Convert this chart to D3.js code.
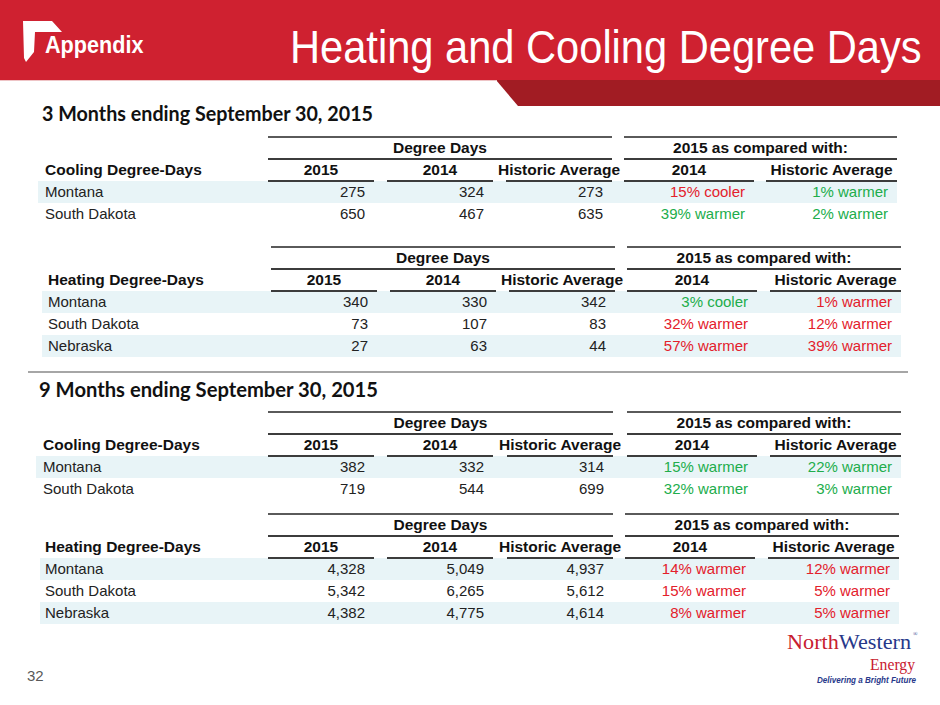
<!DOCTYPE html>
<html>
<head>
<meta charset="utf-8">
<script src="https://cdn.jsdelivr.net/npm/d3@7"></script>
<style>
  body { margin: 0; background: #fff; }
  svg { display: block; font-family: "Liberation Sans", Arial, sans-serif; }
</style>
</head>
<body>
<svg id="slide" width="940" height="705"></svg>
<script>
const slideTitle = 'Heating and Cooling Degree Days';
const sectionTitles = ['3 Months ending September 30, 2015', '9 Months ending September 30, 2015'];
const groupHeads = ['Degree Days', '2015 as compared with:'];
const colHeads = ['2015', '2014', 'Historic Average', '2014', 'Historic Average'];
const coolStates = ['Montana', 'South Dakota'];
const heatStates = ['Montana', 'South Dakota', 'Nebraska'];

// 3 months ending Sep 30
const q3Cool2015 = [275, 650];
const q3Cool2014 = [324, 467];
const q3CoolHist = [273, 635];
const q3CoolVs2014 = ['15% cooler', '39% warmer'];
const q3CoolVsHist = ['1% warmer', '2% warmer'];

const q3Heat2015 = [340, 73, 27];
const q3Heat2014 = [330, 107, 63];
const q3HeatHist = [342, 83, 44];
const q3HeatVs2014 = ['3% cooler', '32% warmer', '57% warmer'];
const q3HeatVsHist = ['1% warmer', '12% warmer', '39% warmer'];

// 9 months ending Sep 30
const ytdCool2015 = [382, 719];
const ytdCool2014 = [332, 544];
const ytdCoolHist = [314, 699];
const ytdCoolVs2014 = ['15% warmer', '32% warmer'];
const ytdCoolVsHist = ['22% warmer', '3% warmer'];

const ytdHeat2015 = [4328, 5342, 4382];
const ytdHeat2014 = [5049, 6265, 4775];
const ytdHeatHist = [4937, 5612, 4614];
const ytdHeatVs2014 = ['14% warmer', '15% warmer', '8% warmer'];
const ytdHeatVsHist = ['12% warmer', '5% warmer', '5% warmer'];

const tables = [
  { kind: 'cooling', label: 'Cooling Degree-Days', states: coolStates,
    cols: [q3Cool2015, q3Cool2014, q3CoolHist, q3CoolVs2014, q3CoolVsHist] },
  { kind: 'heating', label: 'Heating Degree-Days', states: heatStates,
    cols: [q3Heat2015, q3Heat2014, q3HeatHist, q3HeatVs2014, q3HeatVsHist] },
  { kind: 'cooling', label: 'Cooling Degree-Days', states: coolStates,
    cols: [ytdCool2015, ytdCool2014, ytdCoolHist, ytdCoolVs2014, ytdCoolVsHist] },
  { kind: 'heating', label: 'Heating Degree-Days', states: heatStates,
    cols: [ytdHeat2015, ytdHeat2014, ytdHeatHist, ytdHeatVs2014, ytdHeatVsHist] }
];

// layout (positions only)
const layouts = [
  { top: 137, labelX: 45, band: [38, 897], edges: [[268, 374], [387, 493], [506, 612], [624, 754], [766, 897]] },
  { top: 247, labelX: 48, band: [42, 901], edges: [[271, 377], [390, 496], [509, 615], [627, 757], [770, 901]] },
  { top: 412, labelX: 43, band: [36, 901], edges: [[268, 374], [387, 493], [507, 613], [627, 757], [770, 901]] },
  { top: 514, labelX: 45, band: [40, 899], edges: [[268, 374], [387, 493], [507, 613], [625, 755], [768, 899]] }
];

const rowH = 22;
const fmt = d3.format(',');
const red = '#e3202b', green = '#21ad4b';

const svg = d3.select('#slide');

// ---- header band
svg.append('rect').attr('x', 0).attr('y', 0).attr('width', 940).attr('height', 80).attr('fill', '#cf2130');
svg.append('polygon')
  .attr('points', '496,80 940,80 940,106 518,106')
  .attr('fill', '#a11c23');
svg.append('line').attr('x1', 0).attr('x2', 497).attr('y1', 80.5).attr('y2', 80.5)
  .attr('stroke', '#eec4c6').attr('stroke-width', 1);

svg.append('polygon')
  .attr('points', '23,21 52,21 62,32 35,32 34,52 26,62 24,58')
  .attr('fill', '#fff');
svg.append('text')
  .attr('transform', 'translate(45,53) scale(0.9,1)')
  .attr('font-size', 24).attr('font-weight', 700).attr('fill', '#fff')
  .text('Appendix');
svg.append('text')
  .attr('transform', 'translate(290,63) scale(0.905,1)')
  .attr('font-size', 46).attr('fill', '#fff')
  .text(slideTitle);

// ---- section titles and divider
const sectionY = [121, 397];
const sectionW = [331, 339];
svg.selectAll('text.section')
  .data(sectionTitles)
  .enter()
  .append('text')
  .classed('section', true)
  .attr('x', (_, i) => i ? 39 : 42)
  .attr('y', (_, i) => sectionY[i])
  .attr('font-family', 'Lato, "Open Sans", sans-serif')
  .attr('font-weight', 700)
  .attr('font-size', 20)
  .attr('fill', '#111')
  .attr('textLength', (_, i) => sectionW[i])
  .attr('lengthAdjust', 'spacingAndGlyphs')
  .text((d) => d);

svg.append('line')
  .attr('x1', 28).attr('x2', 908).attr('y1', 372).attr('y2', 372)
  .attr('stroke', '#a6a6a6').attr('stroke-width', 2);

// ---- tables
function tone(kind, txt) {
  const warmer = /warmer/.test(txt);
  const good = kind === 'cooling' ? warmer : !warmer;
  return good ? green : red;
}

tables.forEach((t, ti) => {
  const L = layouts[ti];
  const g = svg.append('g').classed('table', true);
  const y = d3.scaleBand()
    .domain(t.states)
    .range([L.top + 44, L.top + 44 + rowH * t.states.length]);

  // row bands
  g.selectAll('rect.band')
    .data(t.states)
    .enter()
    .append('rect')
    .classed('band', true)
    .attr('x', L.band[0])
    .attr('width', L.band[1] - L.band[0])
    .attr('y', (d) => y(d))
    .attr('height', y.bandwidth())
    .attr('fill', (_, i) => i % 2 ? 'none' : '#e8f4f7');

  // group rules and headings
  const groups = [[L.edges[0][0], L.edges[2][1]], [L.edges[3][0], L.edges[4][1]]];
  groups.forEach((gr, gi) => {
    g.append('line').attr('x1', gr[0]).attr('x2', gr[1])
      .attr('y1', L.top).attr('y2', L.top)
      .attr('stroke', '#5a5a5a').attr('stroke-width', 2);
    g.append('line').attr('x1', gr[0]).attr('x2', gr[1])
      .attr('y1', L.top + 22).attr('y2', L.top + 22)
      .attr('stroke', '#3c3c3c').attr('stroke-width', 2);
    g.append('text')
      .attr('x', (gr[0] + gr[1]) / 2).attr('y', L.top + 16)
      .attr('text-anchor', 'middle')
      .attr('font-size', 15.5).attr('font-weight', 700).attr('fill', '#111')
      .text(groupHeads[gi]);
  });

  // column headings + underlines
  L.edges.forEach((e, ci) => {
    g.append('line').attr('x1', e[0]).attr('x2', e[1])
      .attr('y1', L.top + 44).attr('y2', L.top + 44)
      .attr('stroke', '#3c3c3c').attr('stroke-width', 2);
    g.append('text')
      .attr('x', (e[0] + e[1]) / 2).attr('y', L.top + 38)
      .attr('text-anchor', 'middle')
      .attr('font-size', 15.5).attr('font-weight', 700).attr('fill', '#111')
      .text(colHeads[ci]);
  });

  g.append('text')
    .attr('x', L.labelX).attr('y', L.top + 38)
    .attr('font-size', 15.5).attr('font-weight', 700).attr('fill', '#111')
    .text(t.label);

  // state labels
  g.selectAll('text.state')
    .data(t.states)
    .enter()
    .append('text')
    .classed('state', true)
    .attr('x', L.labelX)
    .attr('y', (d) => y(d) + 16)
    .attr('font-size', 15).attr('fill', '#222')
    .text((d) => d);

  // values
  t.cols.forEach((col, ci) => {
    const e = L.edges[ci];
    g.selectAll('text.c' + ci)
      .data(col)
      .enter()
      .append('text')
      .classed('c' + ci, true)
      .attr('x', e[1] - 9)
      .attr('y', (_, i) => y(t.states[i]) + 16)
      .attr('text-anchor', 'end')
      .attr('font-size', 15)
      .attr('fill', (d) => typeof d === 'number' ? '#222' : tone(t.kind, d))
      .text((d) => typeof d === 'number' ? fmt(d) : d);
  });
});

// ---- footer
svg.append('text')
  .attr('x', 27).attr('y', 681)
  .attr('font-size', 15).attr('fill', '#595959')
  .text('32');

const logo = svg.append('g').attr('font-family', '"Liberation Serif", "DejaVu Serif", serif');
const nw = logo.append('text')
  .attr('x', 787).attr('y', 649)
  .attr('font-size', 22)
  .attr('textLength', 124).attr('lengthAdjust', 'spacingAndGlyphs');
nw.append('tspan').attr('fill', '#c8202f').text('North');
nw.append('tspan').attr('fill', '#27388a').text('Western');
logo.append('text')
  .attr('x', 913).attr('y', 636)
  .attr('font-size', 6).attr('fill', '#27388a')
  .text('®');
logo.append('text')
  .attr('x', 915).attr('y', 670)
  .attr('text-anchor', 'end')
  .attr('font-size', 16).attr('fill', '#c8202f')
  .attr('textLength', 45).attr('lengthAdjust', 'spacingAndGlyphs')
  .text('Energy');
svg.append('text')
  .attr('x', 817).attr('y', 683)
  .attr('font-size', 9.5).attr('font-weight', 700).attr('font-style', 'italic')
  .attr('fill', '#27388a')
  .attr('textLength', 99).attr('lengthAdjust', 'spacingAndGlyphs')
  .text('Delivering a Bright Future');
</script>
</body>
</html>
